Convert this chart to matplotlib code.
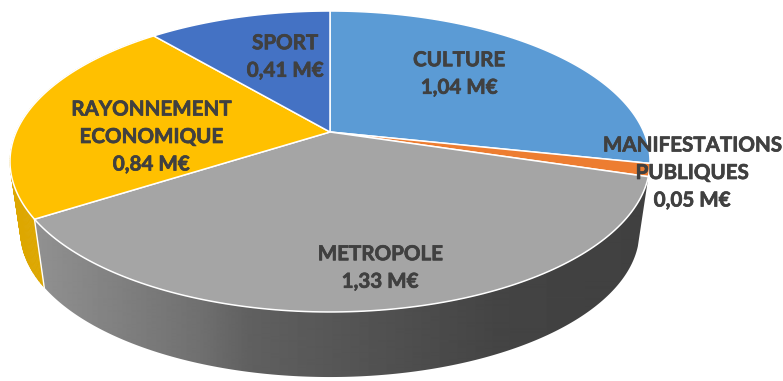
import numpy as np
import matplotlib
matplotlib.use("Agg")
import matplotlib.pyplot as plt
import matplotlib.patheffects as pe
from matplotlib.collections import PolyCollection
from matplotlib.patches import Polygon

# donnees du camembert (M€), sens horaire depuis le haut
labels = ["CULTURE", "MANIFESTATIONS\nPUBLIQUES", "METROPOLE", "RAYONNEMENT\nECONOMIQUE", "SPORT"]
values = [1.04, 0.05, 1.33, 0.84, 0.41]
colors = ["#5B9BD5", "#ED7D31", "#A5A5A5", "#FFC000", "#4472C4"]
value_labels = ["1,04 M€", "0,05 M€", "1,33 M€", "0,84 M€", "0,41 M€"]
label_pos = [(459, 74), (692, 173), (380, 268), (151, 137), (285, 57)]

W, H = 783, 381
CX, CY = 330, 132
A, B, C = 144.7, 0.196, 313.8  # perspective du disque
SCALE = 0.967
CY_BOTTOM = 203


def project(t, scale=1.0, cy=CY):
    # cercle unite -> ecran, avec perspective
    x, y = np.cos(t), np.sin(t)
    d = 1 + B * y
    return CX + scale * C * x / d, cy - scale * A * y / d


def side_polygon(t0, t1, n=200):
    ts = np.linspace(t0, t1, n)
    xt, yt = project(ts)
    xb, yb = project(ts, SCALE, CY_BOTTOM)
    return np.c_[np.r_[xt, xb[::-1]], np.r_[yt, yb[::-1]]]


fig = plt.figure(figsize=(W / 100, H / 100), dpi=100)
ax = fig.add_axes([0, 0, 1, 1])

fractions = np.array(values) / sum(values)
edges = np.pi / 2 - 2 * np.pi * np.concatenate([[0], np.cumsum(fractions)])

# flanc gris en degrade, clippe sur le contour
columns = np.arange(W) + 0.5
shade = np.interp(columns, [40, 200, 250, 500, 650], [0x90, 0x70, 0x60, 0x44, 0x40]) / 255
clip = Polygon(side_polygon(edges[2], edges[3]), closed=True, transform=ax.transData, facecolor="none", edgecolor="none")
ax.add_patch(clip)
img = ax.imshow(shade[None, :], cmap="gray", vmin=0, vmax=1, extent=(0, W, H, 0), aspect="auto", interpolation="bilinear")
img.set_clip_path(clip)

# flanc jaune, par petits quads car le contour se recoupe
ts = np.linspace(edges[3], edges[3] - np.radians(80), 100)
xt, yt = project(ts)
xb, yb = project(ts, SCALE, CY_BOTTOM)
quads = [[(xt[i], yt[i]), (xt[i + 1], yt[i + 1]), (xb[i + 1], yb[i + 1]), (xb[i], yb[i])] for i in range(len(ts) - 1)]
ax.add_collection(PolyCollection(quads, facecolors="#DDA700", edgecolors="#DDA700", linewidths=0.5))
ax.plot([xt[0], xb[0]], [yt[0], yb[0]], color="white", lw=1.0)

# dessus
for i, col in enumerate(colors):
    ts = np.linspace(edges[i], edges[i + 1], 120)
    x, y = project(ts)
    ax.fill(np.r_[CX, x], np.r_[CY, y], facecolor=col, edgecolor="white", lw=1.1, joinstyle="round")

for lab, val, (x, y) in zip(labels, value_labels, label_pos):
    ax.text(x, y, lab + "\n" + val, ha="center", va="center", family="Lato", weight="bold",
            fontsize=14.8, color="#404040", linespacing=1.47,
            path_effects=[pe.withStroke(linewidth=0.5, foreground="#404040")])

ax.set_xlim(0, W)
ax.set_ylim(H, 0)
ax.axis("off")
fig.savefig("out.png", dpi=100)
